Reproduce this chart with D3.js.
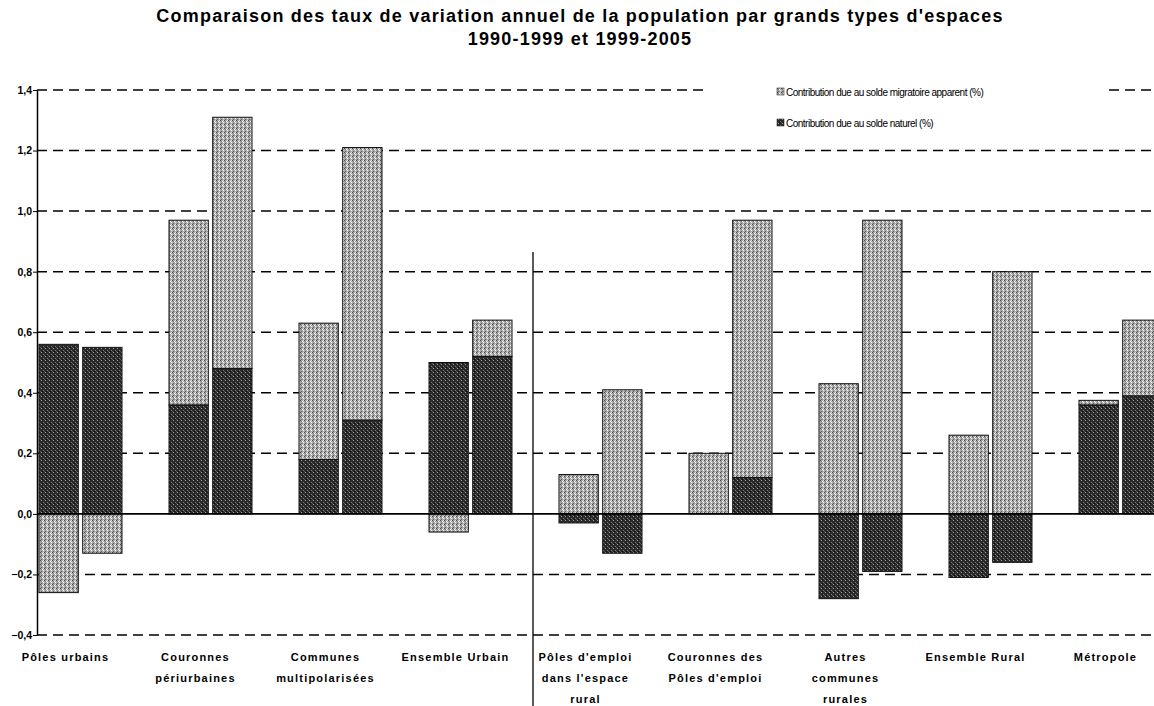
<!DOCTYPE html>
<html>
<head>
<meta charset="utf-8">
<script src="https://cdn.jsdelivr.net/npm/d3@7"></script>
<style>
  body { margin: 0; background: #fff; }
  svg { font-family: "Liberation Sans", Arial, sans-serif; }
</style>
</head>
<body>
<script>
// categories along the bottom, and how their labels wrap
var categories = ["Pôles urbains", "Couronnes périurbaines", "Communes multipolarisées",
                  "Ensemble Urbain", "Pôles d'emploi dans l'espace rural",
                  "Couronnes des Pôles d'emploi", "Autres communes rurales",
                  "Ensemble Rural", "Métropole"];
var labelLines = [["Pôles urbains"], ["Couronnes", "périurbaines"], ["Communes", "multipolarisées"],
                  ["Ensemble Urbain"], ["Pôles d'emploi", "dans l'espace", "rural"],
                  ["Couronnes des", "Pôles d'emploi"], ["Autres", "communes", "rurales"],
                  ["Ensemble Rural"], ["Métropole"]];
var periods = ["1990-1999", "1999-2005"];

// values (%)
var naturel9099    = [0.56, 0.36, 0.18, 0.50, -0.03, 0.00, -0.28, -0.21, 0.36];
var migratoire9099 = [-0.26, 0.61, 0.45, -0.06, 0.13, 0.20, 0.43, 0.26, 0.015];
var naturel9905    = [0.55, 0.48, 0.31, 0.52, -0.13, 0.12, -0.19, -0.16, 0.39];
var migratoire9905 = [-0.13, 0.83, 0.90, 0.12, 0.41, 0.85, 0.97, 0.80, 0.25];

var yTicks = [-0.4, -0.2, 0, 0.2, 0.4, 0.6, 0.8, 1.0, 1.2, 1.4];
var legendLabels = ["Contribution due au solde migratoire apparent (%)",
                    "Contribution due au solde naturel (%)"];

var width = 1154, height = 706;

var svg = d3.select("body")
            .append("svg")
            .attr("width", width)
            .attr("height", height);

// halftone-ish fills
var defs = svg.append("defs");
var light = defs.append("pattern").attr("id", "pLight")
                .attr("width", 4).attr("height", 4).attr("patternUnits", "userSpaceOnUse");
light.append("rect").attr("width", 4).attr("height", 4).attr("fill", "#a9a9a9");
[[0, 0, "#4a4a4a"], [2, 1, "#ffffff"], [1, 3, "#606060"], [3, 2, "#f2f2f2"], [1, 1, "#7a7a7a"], [3, 0, "#dddddd"]]
  .forEach(function(p) {
    light.append("rect").attr("x", p[0]).attr("y", p[1]).attr("width", 1).attr("height", 1).attr("fill", p[2]);
  });
var dark = defs.append("pattern").attr("id", "pDark")
               .attr("width", 4).attr("height", 4).attr("patternUnits", "userSpaceOnUse");
dark.append("rect").attr("width", 4).attr("height", 4).attr("fill", "#2a2a2a");
[[1, 0, "#a0a0a0"], [3, 2, "#7a7a7a"], [0, 3, "#555555"], [2, 3, "#0d0d0d"]]
  .forEach(function(p) {
    dark.append("rect").attr("x", p[0]).attr("y", p[1]).attr("width", 1).attr("height", 1).attr("fill", p[2]);
  });

// scales
var y = d3.scaleLinear().domain([-0.4, 1.4]).range([635, 90]);
var x = d3.scaleBand().domain(categories).range([15.5, 1185.5]);
var xSub = d3.scaleBand().domain(periods).range([-41.5, 41.5]).paddingInner(0.1);
var axisX = 37, rightX = 1154;

// title
var title = svg.append("text")
               .attr("text-anchor", "middle")
               .style("font-size", "18px")
               .style("font-weight", "bold")
               .style("letter-spacing", "1.2px");
title.append("tspan").attr("x", 580).attr("y", 22)
     .text("Comparaison des taux de variation annuel de la population par grands types d'espaces");
title.append("tspan").attr("x", 580).attr("y", 45).text("1990-1999 et 1999-2005");

// dashed gridlines
svg.selectAll("line.grid")
   .data(yTicks.filter(function(d) { return d !== 0; }))
   .enter()
   .append("line")
   .attr("class", "grid")
   .attr("x1", axisX).attr("x2", rightX)
   .attr("y1", function(d) { return y(d); })
   .attr("y2", function(d) { return y(d); })
   .attr("stroke", "#000")
   .attr("stroke-width", 1.5)
   .attr("stroke-dasharray", "10,6");

// build rows and stack them (positive up, negative down)
var rows = [];
categories.forEach(function(c, i) {
  rows.push({ cat: c, period: periods[0], naturel: naturel9099[i], migratoire: migratoire9099[i] });
  rows.push({ cat: c, period: periods[1], naturel: naturel9905[i], migratoire: migratoire9905[i] });
});
var stacked = d3.stack()
                .keys(["naturel", "migratoire"])
                .offset(d3.stackOffsetDiverging)(rows);

var fills = { naturel: "url(#pDark)", migratoire: "url(#pLight)" };

svg.selectAll("g.series")
   .data(stacked)
   .enter()
   .append("g")
   .attr("class", "series")
   .attr("fill", function(s) { return fills[s.key]; })
   .selectAll("rect")
   .data(function(s) { return s; })
   .enter()
   .append("rect")
   .attr("x", function(d) { return x(d.data.cat) + x.bandwidth() / 2 + xSub(d.data.period); })
   .attr("width", xSub.bandwidth())
   .attr("y", function(d) { return y(Math.max(d[0], d[1])); })
   .attr("height", function(d) { return Math.abs(y(d[0]) - y(d[1])); })
   .attr("stroke", "#111")
   .attr("stroke-width", 1);

// legend box hides the top gridline
svg.append("rect")
   .attr("x", 704).attr("y", 80)
   .attr("width", 402).attr("height", 60)
   .attr("fill", "#fff");

var legend = svg.selectAll("g.legend")
                .data(legendLabels)
                .enter()
                .append("g")
                .attr("class", "legend")
                .attr("transform", function(d, i) { return "translate(777," + (92 + i * 31) + ")"; });
legend.append("rect")
      .attr("x", 0).attr("y", -4)
      .attr("width", 7).attr("height", 7)
      .attr("fill", function(d, i) { return i === 0 ? "url(#pLight)" : "url(#pDark)"; })
      .attr("stroke", "#333").attr("stroke-width", 0.6);
legend.append("text")
      .attr("x", 9).attr("y", 4)
      .style("font-size", "10px")
      .style("letter-spacing", "-0.5px")
      .text(function(d) { return d; });

// y axis
var yAxis = d3.axisLeft(y)
              .tickValues(yTicks)
              .tickSize(4)
              .tickSizeOuter(0)
              .tickFormat(function(d) { return d3.format(".1f")(d).replace(".", ","); });
var gy = svg.append("g")
            .attr("transform", "translate(" + axisX + ",0)")
            .call(yAxis);
gy.select(".domain").attr("stroke", "#000").attr("stroke-width", 1.5);
gy.selectAll(".tick line").attr("stroke", "#000");
gy.selectAll(".tick text")
  .attr("x", -5)
  .style("font-size", "10.5px")
  .style("font-weight", "bold")
  .style("font-family", "'Liberation Sans', Arial, sans-serif")
  .attr("fill", "#000");

// zero line
svg.append("line")
   .attr("x1", axisX).attr("x2", rightX)
   .attr("y1", y(0)).attr("y2", y(0))
   .attr("stroke", "#000")
   .attr("stroke-width", 1.8);

// separator between urban and rural
svg.append("line")
   .attr("x1", 533).attr("x2", 533)
   .attr("y1", 252).attr("y2", height)
   .attr("stroke", "#000")
   .attr("stroke-width", 1.3);

// category labels
svg.selectAll("text.cat")
   .data(categories)
   .enter()
   .append("text")
   .attr("class", "cat")
   .attr("text-anchor", "middle")
   .style("font-size", "11px")
   .style("font-weight", "bold")
   .style("letter-spacing", "1.2px")
   .each(function(c, i) {
     var t = d3.select(this);
     var cx = x(c) + x.bandwidth() / 2 - 15;
     labelLines[i].forEach(function(line, k) {
       t.append("tspan").attr("x", cx).attr("y", 661 + k * 21).text(line);
     });
   });
</script>
</body>
</html>
